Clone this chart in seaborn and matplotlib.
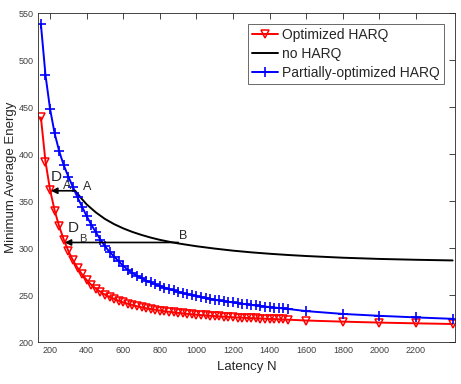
import matplotlib
matplotlib.use("Agg")
import matplotlib.pyplot as plt
import numpy as np
import pandas as pd
import seaborn as sns

# Latency grid: dense part then sparse tail
n_dense = list(range(150, 1501, 25))
n_tail = [1600, 1800, 2000, 2200, 2400]
latency = n_dense + n_tail

optimized_harq = [
    439, 392, 362, 340, 323, 309, 297, 287, 279, 272,
    266, 261, 257, 253.5, 250.5, 248, 246, 244, 242.3, 240.8,
    239.4, 238.2, 237.1, 236.1, 235.2, 234.4, 233.6, 232.9, 232.3, 231.7,
    231.1, 230.6, 230.1, 229.6, 229.2, 228.8, 228.4, 228.0, 227.7, 227.4,
    227.1, 226.8, 226.5, 226.2, 226.0, 225.7, 225.5, 225.3, 225.1, 224.9,
    224.7, 224.5, 224.3, 224.1, 223.9,
    223.0, 221.8, 220.8, 220.0, 219.3,
]

partial_harq = [
    538, 484, 448, 422, 403, 388, 376, 365, 354, 344,
    334, 325, 317, 309, 302, 296, 291, 286, 281, 277,
    273.5, 270.5, 268, 265.5, 263.5, 261.5, 259.5, 258, 256.5, 255,
    253.5, 252, 251, 250, 249, 248, 247, 246, 245, 244.3,
    243.6, 242.9, 242.2, 241.5, 240.8, 240.2, 239.6, 239, 238.4, 237.8,
    237.3, 236.8, 236.3, 235.8, 235.3,
    233.0, 230.0, 228.0, 226.3, 224.8,
]

no_harq_n = [337, 375, 400, 450, 500, 550, 600, 650, 700, 750, 800, 850,
             900, 1000, 1100, 1200, 1300, 1400, 1500, 1600, 1800, 2000, 2200, 2400]
no_harq = [361, 352, 346.5, 338, 331, 325.5, 321, 317.2, 314, 311.2, 308.8, 306.8,
           305, 302, 299.5, 297.3, 295.5, 294, 292.7, 291.6, 289.8, 288.5, 287.6, 286.9]

# annotation points (N, energy)
point_a = (337, 361)
point_a_red = (205, 361)
point_b = (900, 306)
point_b_red = (280, 306)

sns.set_style("white")
plt.rcParams["font.family"] = ["Liberation Sans", "DejaVu Sans"]

fig = plt.figure(figsize=(4.61, 3.84), dpi=100)
ax = fig.add_axes([0.082, 0.109, 0.905, 0.857])

df_opt = pd.DataFrame({"N": latency, "E": optimized_harq})
df_no = pd.DataFrame({"N": no_harq_n, "E": no_harq})
df_part = pd.DataFrame({"N": latency, "E": partial_harq})

sns.lineplot(data=df_opt, x="N", y="E", ax=ax, color="red", lw=1.4,
             marker="v", markersize=6, markerfacecolor="none",
             markeredgecolor="red", markeredgewidth=1.1, label="Optimized HARQ")
sns.lineplot(data=df_no, x="N", y="E", ax=ax, color="black", lw=1.4,
             label="no HARQ")
sns.lineplot(data=df_part, x="N", y="E", ax=ax, color="blue", lw=1.4,
             marker="+", markersize=7, markeredgewidth=1.2,
             markeredgecolor="blue", label="Partially-optimized HARQ")

arrow = dict(arrowstyle="-|>", color="black", lw=1.2, mutation_scale=9,
             shrinkA=0, shrinkB=0)
ax.annotate("", xy=point_a_red, xytext=point_a, arrowprops=arrow)
ax.annotate("", xy=point_b_red, xytext=point_b, arrowprops=arrow)

ax.text(233, 376, "D", fontsize=11, ha="center", va="center")
ax.text(293, 366, "A", fontsize=9, ha="center", va="center", color="#333333")
ax.text(402, 365, "A", fontsize=9, ha="center", va="center")
ax.text(326, 321, "D", fontsize=11, ha="center", va="center")
ax.text(380, 310, "B", fontsize=8, ha="center", va="center", color="#333333")
ax.text(927, 313, "B", fontsize=9, ha="center", va="center")

ax.set_xlim(133, 2413)
ax.set_ylim(200, 550)
ax.set_xticks(range(200, 2201, 200))
ax.set_yticks(range(200, 551, 50))
ax.tick_params(direction="in", length=4, width=0.6, labelsize=6.5,
               colors="#262626", top=True, right=True, labelcolor="#404040",
               pad=3)
for s in ax.spines.values():
    s.set_color("#262626")
    s.set_linewidth(0.6)

ax.set_xlabel("Latency N", fontsize=9.5, color="#262626", labelpad=4)
ax.set_ylabel("Minimum Average Energy", fontsize=9.5, color="#262626",
              labelpad=1)

leg = ax.legend(loc="upper right", bbox_to_anchor=(0.98, 0.975), fontsize=10,
                frameon=True, fancybox=False, borderpad=0.3, labelspacing=0.35,
                handlelength=1.9, handletextpad=0.25, borderaxespad=0.2)
leg.get_frame().set_edgecolor("#262626")
leg.get_frame().set_linewidth(0.6)

fig.savefig("out.png", dpi=100)
